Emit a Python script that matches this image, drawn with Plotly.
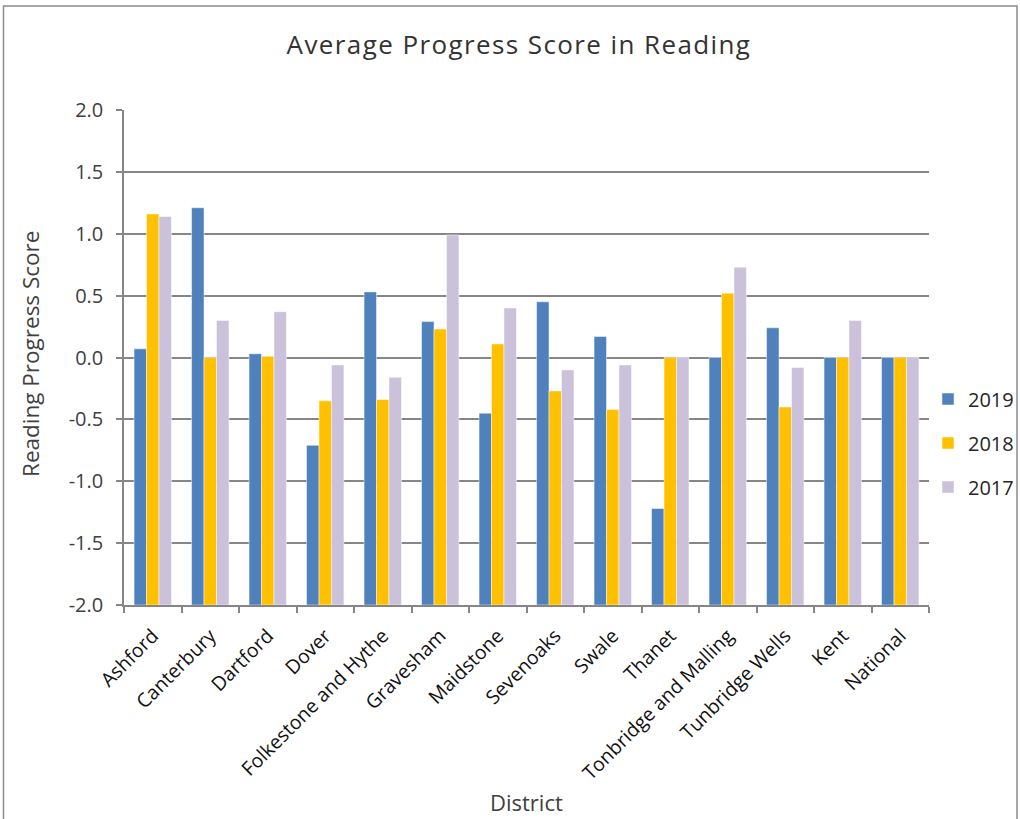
import plotly.graph_objects as go

districts = ["Ashford", "Canterbury", "Dartford", "Dover", "Folkestone and Hythe",
             "Gravesham", "Maidstone", "Sevenoaks", "Swale", "Thanet",
             "Tonbridge and Malling", "Tunbridge Wells", "Kent", "National"]
y2019 = [0.07, 1.21, 0.03, -0.71, 0.53, 0.29, -0.45, 0.45, 0.17, -1.22, 0.0, 0.24, 0.0, 0.0]
y2018 = [1.16, 0.0, 0.01, -0.35, -0.34, 0.23, 0.11, -0.27, -0.42, 0.0, 0.52, -0.40, 0.0, 0.0]
y2017 = [1.14, 0.30, 0.37, -0.06, -0.16, 0.99, 0.40, -0.10, -0.06, 0.0, 0.73, -0.08, 0.30, 0.0]
years = ["2019", "2018", "2017"]
colors = ["#4F81BD", "#FFC000", "#CCC1DA"]
ytick_vals = [-2.0, -1.5, -1.0, -0.5, 0.0, 0.5, 1.0, 1.5, 2.0]
ytick_text = ["-2.0", "-1.5", "-1.0", "-0.5", "0.0", "0.5", "1.0", "1.5", "2.0"]
axis_floor = -2.0  # category axis crosses the value axis at its minimum (bars grow from here)

FONT = "Open Sans"
TXT = "#404040"
AX = "#868686"

fig = go.Figure()
for name, vals, c in zip(years, [y2019, y2018, y2017], colors):
    fig.add_trace(go.Bar(x=districts, y=[v - axis_floor for v in vals], base=axis_floor,
                         name=name, legendgroup=name, customdata=vals,
                         hovertemplate="%{x}: %{customdata}<extra></extra>",
                         marker=dict(color=c, line=dict(color="rgba(255,255,255,0.6)", width=0.8))))

fig.update_layout(
    width=1020, height=819,
    barmode="group", bargap=0.35, bargroupgap=0,
    paper_bgcolor="white", plot_bgcolor="white",
    margin=dict(l=124, r=91, t=110, b=214, autoexpand=False),
    font=dict(family=FONT, color=TXT, size=17),
    title=dict(text="Average Progress Score in Reading", x=(519 - 124) / 805, xref="paper",
               xanchor="center", y=1 - 45 / 819, yanchor="middle",
               font=dict(size=26, color="#333333", family=FONT)),
    legend=dict(x=(928 - 124) / 805, xanchor="left", y=(605 - 443) / 495, yanchor="middle",
                font=dict(size=20, color="#262626"), tracegroupgap=15, itemwidth=30,
                bgcolor="rgba(0,0,0,0)"),
    showlegend=True,
)
fig.update_xaxes(
    type="category", showline=True, linecolor=AX, linewidth=1.5, automargin=False,
    ticks="outside", tickson="boundaries", ticklen=6, tickcolor=AX, tickwidth=1.5,
    tickangle=-45, tickfont=dict(size=19.5, color="#111111"), showgrid=False,
    ticklabelstandoff=10,
)
fig.update_yaxes(
    range=[-2.0, 2.0], tickvals=ytick_vals, ticktext=ytick_text, automargin=False,
    showline=True, linecolor=AX, linewidth=1.5,
    ticks="outside", ticklen=6, tickcolor=AX, tickwidth=1.5,
    showgrid=True, gridcolor=AX, gridwidth=1.5, zeroline=False,
    tickfont=dict(size=20, color=TXT), ticklabelstandoff=9,
)
fig.add_annotation(text="Reading Progress Score", xref="paper", yref="paper",
                   x=-94 / 805, y=(605 - 354) / 495, textangle=-90, showarrow=False,
                   xanchor="center", yanchor="middle", font=dict(size=22.5, color=TXT))
fig.add_annotation(text="District", xref="paper", yref="paper",
                   x=(526 - 124) / 805, y=-(802 - 605) / 495, showarrow=False,
                   xanchor="center", yanchor="middle", font=dict(size=22, color=TXT))
fig.add_shape(type="rect", xref="paper", yref="paper",
              x0=(3.5 - 124) / 805, x1=(1017 - 124) / 805,
              y0=-(840 - 605) / 495, y1=(605 - 6) / 495,
              line=dict(color="#8c8c8c", width=1.5), fillcolor="rgba(0,0,0,0)", layer="below")

post = ("document.body.style.margin='0';"
        "document.querySelectorAll('.gtitle').forEach(function(e){e.style.letterSpacing='1.4px';});")
fig.write_html("out.html", config={"displayModeBar": False}, post_script=post)
